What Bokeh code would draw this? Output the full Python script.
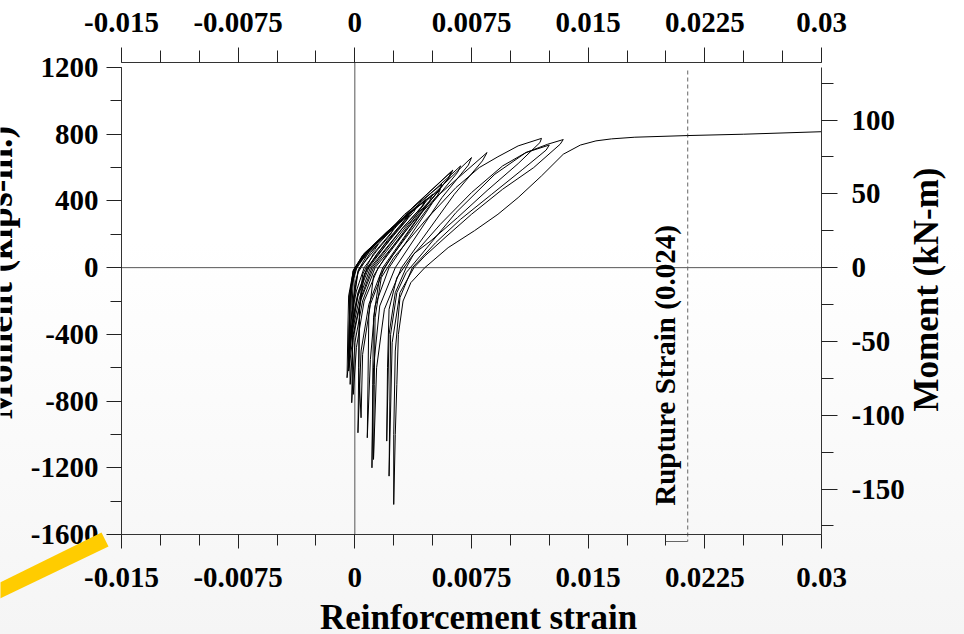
from bokeh.plotting import figure
from bokeh.models import (Range1d, LinearAxis, FixedTicker, Label,
                          PolyAnnotation, ColumnDataSource)
from bokeh.embed import file_html
from bokeh.resources import INLINE

# ---------------- data ----------------
# reinforcement strain / moment (kips-in.) path of the cyclic test
strain = [
    0.0000, 0.0005, 0.0010, 0.0015,
    0.0013, 0.0006, 0.0003, 0.0000, -0.0001, -0.0002,
    -0.00015, -0.0001, 0.0002, 0.0008, 0.0017, 0.0025,
    0.0023, 0.0014, 0.0006, 0.0001, -0.0002, -0.0003,
    -0.00025, -0.0002, 0.0001, 0.0008, 0.0022, 0.0035,
    0.0033, 0.0022, 0.0008, 0.0002, -0.0002, -0.0004,
    -0.00035, -0.0003, 0.0000, 0.0007, 0.0021, 0.0034,
    0.0032, 0.0021, 0.0008, 0.0002, -0.0002, -0.0004,
    -0.00035, -0.0003, 0.0000, 0.0007, 0.0026, 0.0045,
    0.0043, 0.0030, 0.0010, 0.0003, -0.0002, -0.0005,
    -0.00045, -0.0004, -0.0001, 0.0006, 0.0025, 0.0046,
    0.0044, 0.0031, 0.0011, 0.0004, -0.0001, -0.0004,
    -0.00035, -0.0003, -0.0001, 0.0005, 0.0020, 0.0040,
    0.0038, 0.0026, 0.0009, 0.0002, -0.0002, -0.0004,
    -0.00035, -0.0003, -0.0001, 0.0006, 0.0024, 0.0050,
    0.0048, 0.0034, 0.0012, 0.0004, -0.0001, -0.0003,
    -0.00035, -0.0003, 0.0000, 0.0008, 0.0030, 0.0055,
    0.0053, 0.0038, 0.0013, 0.0005, 0.0000, -0.0002,
    -0.00015, -0.0001, 0.0002, 0.0009, 0.0032, 0.0056,
    0.0054, 0.0040, 0.0015, 0.0006, 0.0001, -0.0001,
    -0.00015, -0.0001, 0.0002, 0.0010, 0.0035, 0.0062,
    0.0060, 0.0045, 0.0018, 0.0009, 0.0004, 0.0002,
    0.00025, 0.0003, 0.0005, 0.0012, 0.0037, 0.0063,
    0.0061, 0.0046, 0.0019, 0.0010, 0.0005, 0.0004,
    0.00025, 0.0003, 0.0006, 0.0014, 0.0040, 0.0068,
    0.0066, 0.0050, 0.0022, 0.0013, 0.0010, 0.0008,
    0.00085, 0.0009, 0.0012, 0.0020, 0.0046, 0.0075,
    0.0073, 0.0056, 0.0026, 0.0016, 0.0012, 0.0011,
    0.00115, 0.0012, 0.0016, 0.0024, 0.0052, 0.0085,
    0.0082, 0.0064, 0.0030, 0.0019, 0.0014, 0.0012,
    0.00125, 0.0013, 0.0017, 0.0025, 0.0045, 0.0065, 0.0080, 0.0092, 0.0105, 0.0120,
    0.0119, 0.0105, 0.0085, 0.0066, 0.0049, 0.0038, 0.0033, 0.0026, 0.0022, 0.00205,
    0.0021, 0.0022, 0.0027, 0.0036, 0.0055, 0.0075, 0.0095, 0.0110, 0.0124, 0.0134,
    0.0132, 0.0115, 0.0095, 0.0075, 0.0058, 0.0045, 0.0038, 0.0029, 0.0024, 0.0022,
    0.00225, 0.0023, 0.0027, 0.0033, 0.0042, 0.0065, 0.0090, 0.0110, 0.0125,
    0.0123, 0.0108, 0.0088, 0.0068, 0.0052, 0.0042, 0.0037, 0.0029, 0.0026, 0.0025, 0.0025,
    0.0026, 0.0027, 0.0028, 0.0031, 0.0036, 0.0045, 0.0060, 0.0077, 0.0092, 0.0105,
    0.0120, 0.0134, 0.0145, 0.0155, 0.0165, 0.0180, 0.0214, 0.0250, 0.0300,
]
moment = [
    0, 50, 100, 140,
    110, 30, 0, -100, -200, -300,
    -170, -70, 20, 90, 170, 235,
    200, 100, 0, -140, -280, -430,
    -250, -110, 10, 95, 215, 315,
    280, 160, 0, -150, -340, -560,
    -320, -140, 0, 90, 215, 320,
    285, 165, 0, -160, -360, -520,
    -310, -140, -10, 85, 250, 400,
    365, 230, 0, -180, -400, -660,
    -380, -170, -20, 80, 250, 410,
    375, 240, 0, -180, -400, -620,
    -350, -150, -20, 75, 210, 370,
    335, 210, 0, -170, -380, -600,
    -340, -150, -15, 85, 240, 440,
    400, 260, 0, -190, -420, -700,
    -380, -170, -20, 90, 290, 470,
    430, 280, 0, -200, -450, -810,
    -480, -200, -20, 95, 320, 500,
    460, 310, 0, -200, -480, -760,
    -500, -220, -30, 90, 340, 575,
    535, 360, 0, -220, -500, -990,
    -600, -240, -40, 85, 360, 585,
    545, 370, 0, -220, -520, -900,
    -600, -250, -40, 80, 370, 610,
    570, 390, 0, -230, -550, -1020,
    -650, -280, -50, 70, 400, 660,
    615, 420, 0, -230, -600, -1200,
    -700, -300, -50, 70, 420, 690,
    640, 440, 0, -250, -600, -1150,
    -700, -300, -60, 60, 280, 480, 600, 665, 730, 775,
    750, 624, 462, 300, 162, 84, 0, -150, -400, -1040,
    -600, -250, -60, 60, 260, 450, 610, 690, 740, 768,
    740, 600, 470, 320, 180, 70, 0, -150, -450, -1250,
    -800, -400, -150, -30, 70, 330, 560, 690, 735,
    705, 590, 440, 290, 150, 50, 0, -180, -500, -1000, -1420,
    -1000, -700, -400, -200, -90, 0, 120, 222, 320, 420,
    550, 680, 735, 760, 772, 782, 792, 800, 815,
]

rupture_strain = 0.0214
rupture_text = "Rupture Strain (0.024)"

x_ticks = [-0.015, -0.0075, 0.0, 0.0075, 0.015, 0.0225, 0.03]
x_tick_labels = ["-0.015", "-0.0075", "0", "0.0075", "0.015", "0.0225", "0.03"]
x_minor = [-0.015 + 0.0025 * i for i in range(19)]

y_ticks = [-1600, -1200, -800, -400, 0, 400, 800, 1200]
y_tick_labels = ["-1600", "-1200", "-800", "-400", "0", "400", "800", "1200"]
y_minor = [-1600 + 200 * i for i in range(15)]

knm_ticks = [-150, -100, -50, 0, 50, 100]
knm_tick_labels = ["-150", "-100", "-50", "0", "50", "100"]
knm_minor = [-175, -125, -75, -25, 25, 75, 125]

KIPIN_PER_KNM = 8.8507

# axis extents (data)
XA0, XA1 = -0.015, 0.03
YA0, YA1 = -1600, 1200

# ---------------- layout geometry (page pixels) ----------------
W, H = 964, 634
PX_X0, PX_X1 = 121, 821      # page x of strain -0.015 / 0.03
PX_Y1, PX_Y0 = 67, 534       # page y of moment 1200 / -1600
kx = (PX_X1 - PX_X0) / (XA1 - XA0)
ky = (PX_Y0 - PX_Y1) / (YA1 - YA0)

X_START = XA0 - PX_X0 / kx
X_END = XA0 + (W - PX_X0) / kx
Y_END = YA1 + PX_Y1 / ky
Y_START = YA1 - (H - PX_Y1) / ky


def sx(px):
    return X_START + px / kx


def my(py):
    return Y_END - py / ky


FONT = "Liberation Serif"

p = figure(width=W, height=H, output_backend="svg", toolbar_location=None,
           x_range=Range1d(X_START, X_END), y_range=Range1d(Y_START, Y_END),
           min_border_left=0, min_border_right=0, min_border_top=0, min_border_bottom=0)
p.xgrid.visible = False
p.ygrid.visible = False
p.outline_line_color = None
p.border_fill_color = None
p.background_fill_color = None
p.styles = {"background": "linear-gradient(180deg, #ffffff 0%, #ffffff 38%, #f5f5f5 100%)"}

p.extra_y_ranges = {"knm": Range1d(Y_START / KIPIN_PER_KNM, Y_END / KIPIN_PER_KNM)}


def style_axis(ax, tick_out, minor_out, standoff):
    ax.axis_line_color = "#333333"
    ax.axis_line_width = 1
    ax.major_tick_line_color = "#222222"
    ax.minor_tick_line_color = "#222222"
    ax.major_tick_in = 0
    ax.minor_tick_in = 0
    ax.major_tick_out = tick_out
    ax.minor_tick_out = minor_out
    ax.major_label_standoff = standoff
    ax.major_label_text_font = FONT
    ax.major_label_text_font_style = "bold"
    ax.major_label_text_font_size = "29px"
    ax.major_label_text_color = "black"


# bottom axis
bx = p.xaxis[0]
bx.ticker = FixedTicker(ticks=x_ticks, minor_ticks=x_minor)
bx.major_label_overrides = dict(zip(x_ticks, x_tick_labels))
bx.bounds = (XA0, XA1)
bx.fixed_location = YA0
style_axis(bx, 14, 11, 19)

# left axis
ly = p.yaxis[0]
ly.ticker = FixedTicker(ticks=y_ticks, minor_ticks=y_minor)
ly.major_label_overrides = dict(zip(y_ticks, y_tick_labels))
ly.bounds = (YA0, YA1)
ly.fixed_location = XA0
style_axis(ly, 15, 11, 8)

# top axis (sits a few pixels above the 1200 level)
tx = LinearAxis(ticker=FixedTicker(ticks=x_ticks, minor_ticks=x_minor))
tx.major_label_overrides = dict(zip(x_ticks, x_tick_labels))
tx.bounds = (XA0, XA1)
tx.fixed_location = my(62)
style_axis(tx, 15, 12, 16)
p.add_layout(tx, "above")

# right axis (kN-m)
ry = LinearAxis(y_range_name="knm",
                ticker=FixedTicker(ticks=knm_ticks, minor_ticks=knm_minor))
ry.major_label_overrides = dict(zip(knm_ticks, knm_tick_labels))
ry.bounds = (YA0 / KIPIN_PER_KNM, YA1 / KIPIN_PER_KNM)
ry.fixed_location = XA1
style_axis(ry, 16, 12, 14)
p.add_layout(ry, "right")

# zero lines
p.segment(x0=[XA0], y0=[0], x1=[XA1], y1=[0], line_color="#555555", line_width=1)
p.segment(x0=[0], y0=[YA0], x1=[0], y1=[my(62)], line_color="#555555", line_width=1)

# rupture strain marker
p.segment(x0=[rupture_strain], y0=[my(70)], x1=[rupture_strain], y1=[my(541)],
          line_color="#666666", line_width=1, line_dash="4 3")
p.line(x=[sx(665), sx(665), rupture_strain], y=[YA0, my(541), my(541)],
       line_color="#666666", line_width=1)

# the curve
src = ColumnDataSource(dict(strain=strain, moment=moment))
p.line("strain", "moment", source=src, line_color="black", line_width=1)

# titles
p.add_layout(Label(x=sx(-2), y=my(272), text="Moment (kips-in.)", angle=90, angle_units="deg",
                   text_align="center", text_baseline="alphabetic", text_font=FONT,
                   text_font_style="bold", text_font_size="38px", text_color="black"))
p.add_layout(Label(x=sx(926), y=my(289), text="Moment (kN-m)", angle=90, angle_units="deg",
                   text_align="center", text_baseline="alphabetic", text_font=FONT,
                   text_font_style="bold", text_font_size="35px", text_color="black"))
p.add_layout(Label(x=sx(478), y=my(617), text="Reinforcement strain",
                   text_align="center", text_baseline="alphabetic", text_font=FONT,
                   text_font_style="bold", text_font_size="35px", text_color="black"))
p.add_layout(Label(x=sx(664), y=my(365), text=rupture_text, angle=90, angle_units="deg",
                   text_align="center", text_baseline="alphabetic", text_font=FONT,
                   text_font_style="bold", text_font_size="29px", text_color="black"))

# yellow highlight stroke at bottom-left
p.add_layout(PolyAnnotation(xs=[sx(-23), sx(101), sx(108), sx(-17)],
                            ys=[my(593), my(532), my(546), my(606)],
                            fill_color="#ffcc00", fill_alpha=1.0, line_color=None))

open("out.html", "w").write(file_html(p, INLINE))
